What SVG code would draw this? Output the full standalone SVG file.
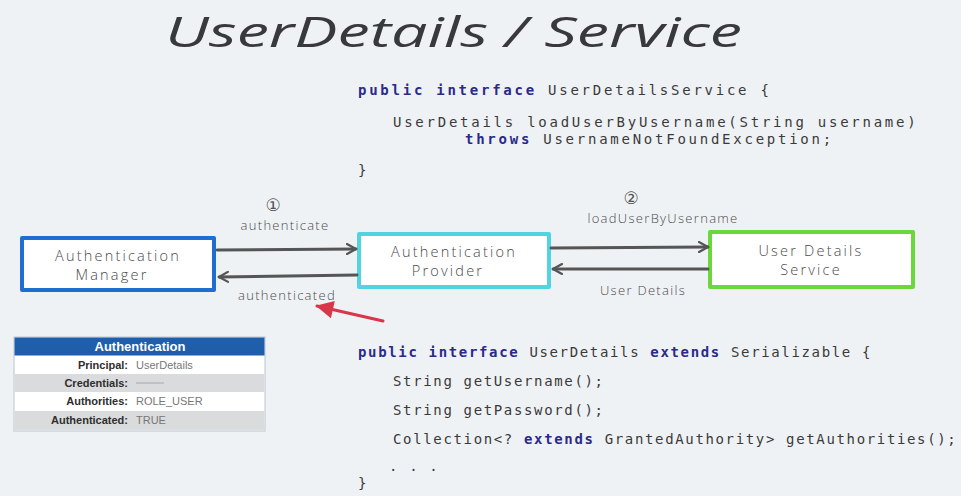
<svg xmlns="http://www.w3.org/2000/svg" width="961" height="496" viewBox="0 0 961 496">
  <style>
    .title { font-family: "Open Sans", "Liberation Sans", sans-serif; font-style: italic; font-weight: 400; font-size: 42px; fill: #37393d; }
    .code1 { font-family: "DejaVu Sans Mono", "Liberation Mono", monospace; font-size: 14px; fill: #3a3a3a; letter-spacing: 2.75px; }
    .code2 { font-family: "DejaVu Sans Mono", "Liberation Mono", monospace; font-size: 14px; fill: #3a3a3a; letter-spacing: 1.65px; }
    .kw { fill: #2b2a8a; font-weight: bold; }
    .hand { font-family: "Open Sans", "DejaVu Sans", sans-serif; font-weight: 300; font-size: 14.5px; fill: #4a4a4a; letter-spacing: 2.2px; text-anchor: middle; }
    .lbl { font-family: "Open Sans", "DejaVu Sans", sans-serif; font-weight: 300; font-size: 13px; fill: #4a4a4a; letter-spacing: 1.3px; text-anchor: middle; }
    .num { font-family: "DejaVu Sans", sans-serif; font-size: 17px; fill: #555555; text-anchor: middle; }
    .box { fill: #ffffff; stroke-width: 4; stroke-linejoin: round; }
    .flow { fill: none; stroke: #555555; stroke-width: 3; stroke-linecap: round; }
    .th { font-family: "Liberation Sans", Arial, sans-serif; font-weight: bold; font-size: 13px; fill: #ffffff; text-anchor: middle; }
    .key { font-family: "Liberation Sans", Arial, sans-serif; font-weight: bold; font-size: 11px; fill: #2e2e2e; text-anchor: end; }
    .val { font-family: "Liberation Sans", Arial, sans-serif; font-size: 11px; fill: #777777; }
  </style>
  <defs>
    <marker id="open" viewBox="0 0 12 12" refX="10" refY="6" markerWidth="12" markerHeight="12" markerUnits="userSpaceOnUse" orient="auto">
      <path d="M1,1 L10,6 L1,11" fill="none" stroke="#555555" stroke-width="2.2" stroke-linecap="round" stroke-linejoin="round"/>
    </marker>
    <marker id="redhead" viewBox="0 0 16 16" refX="14" refY="8" markerWidth="20" markerHeight="20" markerUnits="userSpaceOnUse" orient="auto">
      <path d="M1,1 L15,8 L1,15 Z" fill="#d8374a"/>
    </marker>
  </defs>

  <!-- background -->
  <rect x="0" y="0" width="961" height="496" fill="#eff2f5"/>

  <!-- heading -->
  <text class="title" x="165" y="47" textLength="577" lengthAdjust="spacingAndGlyphs">UserDetails / Service</text>

  <!-- UserDetailsService interface -->
  <g id="code-service">
    <text class="code1" x="358" y="95"><tspan class="kw">public</tspan> <tspan class="kw">interface</tspan> UserDetailsService {</text>
    <text class="code1" x="393" y="127">UserDetails loadUserByUsername(String username)</text>
    <text class="code1" x="465" y="144"><tspan class="kw">throws</tspan> UsernameNotFoundException;</text>
    <text class="code1" x="358" y="175">}</text>
  </g>

  <!-- nodes -->
  <g id="auth-manager">
    <rect class="box" x="22" y="238" width="192" height="52" stroke="#1f6fd1"/>
    <text class="hand" x="118" y="261">Authentication</text>
    <text class="hand" x="112" y="280">Manager</text>
  </g>
  <g id="auth-provider">
    <rect class="box" x="359" y="234" width="190" height="53" stroke="#52d3e2"/>
    <text class="hand" x="454" y="257">Authentication</text>
    <text class="hand" x="448" y="276">Provider</text>
  </g>
  <g id="user-details-service">
    <rect class="box" x="710" y="232" width="203" height="55" stroke="#6ad83a"/>
    <text class="hand" x="811" y="256">User Details</text>
    <text class="hand" x="811" y="275">Service</text>
  </g>

  <!-- connectors -->
  <g id="connectors">
    <path class="flow" d="M217,250 L356,249" marker-end="url(#open)"/>
    <path class="flow" d="M357,275 L219,277" marker-end="url(#open)"/>
    <path class="flow" d="M551,248 L708,247" marker-end="url(#open)"/>
    <path class="flow" d="M708,269 L553,269" marker-end="url(#open)"/>

    <text class="num" x="273" y="211">①</text>
    <text class="lbl" x="285" y="230">authenticate</text>

    <text class="num" x="631" y="204">②</text>
    <text class="lbl" x="663" y="223">loadUserByUsername</text>

    <text class="lbl" x="287" y="300">authenticated</text>
    <text class="lbl" x="643" y="295">User Details</text>

    <path d="M383,321 L317,306" fill="none" stroke="#d8374a" stroke-width="3" stroke-linecap="round" marker-end="url(#redhead)"/>
  </g>

  <!-- Authentication object -->
  <g id="authentication-table">
    <rect x="14" y="337" width="251" height="94" fill="#ffffff" stroke="#b9c4d2" stroke-width="1"/>
    <rect x="14.5" y="337.5" width="250" height="18" fill="#1f5eab"/>
    <text class="th" x="140" y="351">Authentication</text>
    <rect x="14.5" y="374" width="250" height="18" fill="#dadbdd"/>
    <rect x="14.5" y="411" width="250" height="19.5" fill="#dadbdd"/>
    <text class="key" x="128" y="369">Principal:</text>
    <text class="val" x="136" y="369">UserDetails</text>
    <text class="key" x="128" y="387">Credentials:</text>
    <line x1="136" y1="383" x2="164" y2="383" stroke="#a8a8a8" stroke-width="1"/>
    <text class="key" x="128" y="405">Authorities:</text>
    <text class="val" x="136" y="405">ROLE_USER</text>
    <text class="key" x="128" y="424">Authenticated:</text>
    <text class="val" x="136" y="424">TRUE</text>
  </g>

  <!-- UserDetails interface -->
  <g id="code-details">
    <text class="code2" x="358" y="357"><tspan class="kw">public</tspan> <tspan class="kw">interface</tspan> UserDetails <tspan class="kw">extends</tspan> Serializable {</text>
    <text class="code2" x="393" y="386">String getUsername();</text>
    <text class="code2" x="393" y="415">String getPassword();</text>
    <text class="code2" x="393" y="444">Collection&lt;? <tspan class="kw">extends</tspan> GrantedAuthority&gt; getAuthorities();</text>
    <text class="code2" x="389" y="471">. . .</text>
    <text class="code2" x="358" y="488">}</text>
  </g>
</svg>
